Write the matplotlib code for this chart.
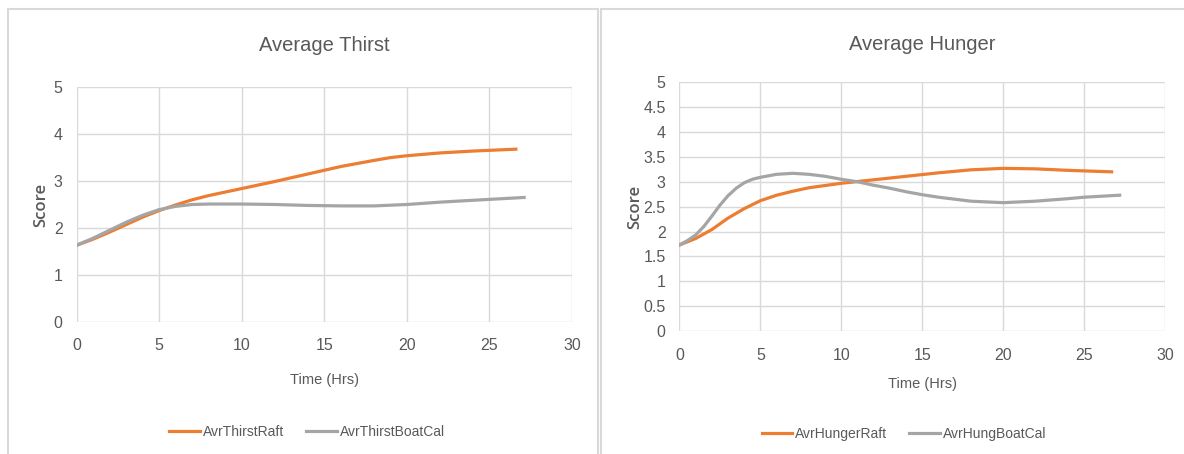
import matplotlib.pyplot as plt
from matplotlib.patches import Rectangle

# thirst scores over time
thirst_raft_t = [0, 1, 2, 3, 4, 5, 6, 7, 8, 10, 12, 14, 16, 18, 19, 20, 21, 22, 24, 26.6]
thirst_raft = [1.63, 1.76, 1.91, 2.07, 2.23, 2.37, 2.49, 2.60, 2.69, 2.84, 2.99, 3.15, 3.31, 3.44, 3.50, 3.54, 3.57, 3.60, 3.64, 3.68]
thirst_boat_t = [0, 1, 2, 3, 4, 5, 6, 7, 8, 10, 12, 14, 16, 18, 20, 22, 24, 27.1]
thirst_boat = [1.63, 1.78, 1.95, 2.12, 2.27, 2.39, 2.46, 2.50, 2.51, 2.51, 2.50, 2.48, 2.47, 2.47, 2.50, 2.55, 2.59, 2.65]

# hunger scores over time
hunger_raft_t = [0, 1, 2, 3, 4, 5, 6, 7, 8, 10, 12, 14, 16, 18, 20, 22, 24, 26.7]
hunger_raft = [1.73, 1.86, 2.04, 2.27, 2.46, 2.62, 2.73, 2.81, 2.88, 2.97, 3.04, 3.11, 3.18, 3.24, 3.27, 3.26, 3.23, 3.20]
hunger_boat_t = [0, 0.5, 1, 1.5, 2, 2.5, 3, 3.5, 4, 4.5, 5, 6, 7, 8, 9, 10, 11, 12, 13, 14, 15, 16, 18, 20, 22, 24, 25, 27.2]
hunger_boat = [1.73, 1.82, 1.93, 2.10, 2.31, 2.53, 2.72, 2.87, 2.98, 3.05, 3.09, 3.15, 3.17, 3.15, 3.11, 3.05, 3.00, 2.93, 2.87, 2.80, 2.74, 2.69, 2.61, 2.58, 2.61, 2.66, 2.69, 2.73]

x_ticks = [0, 5, 10, 15, 20, 25, 30]
thirst_y_ticks = [0, 1, 2, 3, 4, 5]
hunger_y_ticks = [0, 0.5, 1, 1.5, 2, 2.5, 3, 3.5, 4, 4.5, 5]

ORANGE = "#ED7D31"
GREY = "#A5A5A5"
TXT = "#595959"
GRID = "#D9D9D9"

plt.rcParams['font.family'] = ["Liberation Sans", "DejaVu Sans"]

W, H = 1184, 454
fig = plt.figure(figsize=(W / 100, H / 100), dpi=100)

# chart frames
fig.patches.append(Rectangle((8 / W, -0.05), 590 / W, 1.05 - 9 / H, transform=fig.transFigure,
                             fill=False, edgecolor=GRID, lw=1.5))
fig.patches.append(Rectangle((601 / W, -0.05), 600 / W, 1.05 - 9 / H, transform=fig.transFigure,
                             fill=False, edgecolor=GRID, lw=1.5))


def px_axes(x0, x1, ytop, ybot):
    return fig.add_axes([x0 / W, (H - ybot) / H, (x1 - x0) / W, (ybot - ytop) / H])


def style(ax, yticks, ylabels, xlabelpad, ylabelpad):
    ax.set_xlim(0, 30)
    ax.set_ylim(0, 5)
    ax.set_xticks(x_ticks)
    ax.set_yticks(yticks)
    ax.set_yticklabels(ylabels)
    for s in ax.spines.values():
        s.set_visible(False)
    ax.grid(True, color=GRID, lw=1)
    ax.set_axisbelow(True)
    ax.tick_params(length=0, labelsize=11.5, labelcolor=TXT)
    ax.tick_params(axis='x', pad=12)
    ax.tick_params(axis='y', pad=10)
    ax.set_xlabel("Time (Hrs)", fontsize=10.5, color=TXT, labelpad=xlabelpad)
    ax.set_ylabel("Score", fontsize=12, color=TXT, fontweight='semibold',
                  family=["Open Sans", "DejaVu Sans"], labelpad=ylabelpad)


def add_legend(ax, cx, cy):
    ax.legend(loc='center', bbox_to_anchor=(cx / W, (H - cy) / H), bbox_transform=fig.transFigure,
              ncol=2, frameon=False, fontsize=10, labelcolor=TXT, handlelength=2.2,
              handletextpad=0.2, columnspacing=1.6)


# left chart
ax1 = px_axes(76.5, 572, 87.3, 321.7)
ax1.plot(thirst_raft_t, thirst_raft, color=ORANGE, lw=2.3, label="AvrThirstRaft")
ax1.plot(thirst_boat_t, thirst_boat, color=GREY, lw=2.3, label="AvrThirstBoatCal")
style(ax1, thirst_y_ticks, [str(v) for v in thirst_y_ticks], 14, 3)
ax1.set_title("Average Thirst", fontsize=14.5, color=TXT, pad=26)
add_legend(ax1, 307, 432)

# right chart
ax2 = px_axes(679.5, 1165, 82.3, 331)
ax2.plot(hunger_raft_t, hunger_raft, color=ORANGE, lw=2.3, label="AvrHungerRaft")
ax2.plot(hunger_boat_t, hunger_boat, color=GREY, lw=2.3, label="AvrHungBoatCal")
style(ax2, hunger_y_ticks, [f"{v:g}" for v in hunger_y_ticks], 10, 0)
ax2.set_title("Average Hunger", fontsize=14.5, color=TXT, pad=23)
add_legend(ax2, 904, 434)

fig.savefig("out.png", dpi=100, facecolor="white")
